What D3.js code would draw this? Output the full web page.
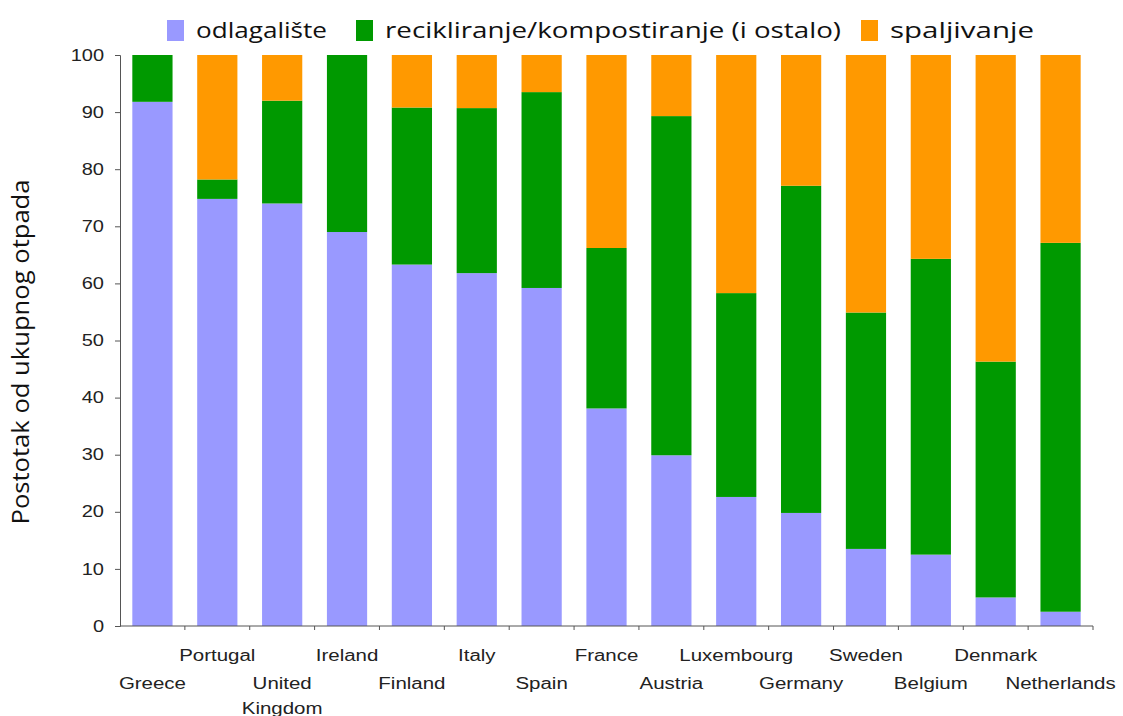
<!DOCTYPE html>
<html>
<head>
<meta charset="utf-8">
<script src="https://cdn.jsdelivr.net/npm/d3@7"></script>
<style>
  body { margin: 0; background: #fff; }
  svg { display: block; }
</style>
</head>
<body>
<svg width="1123" height="716"></svg>
<script>
// podaci očitani sa slike (postotak od ukupnog otpada)
const countries = ['Greece', 'Portugal', 'United Kingdom', 'Ireland', 'Finland', 'Italy', 'Spain',
  'France', 'Austria', 'Luxembourg', 'Germany', 'Sweden', 'Belgium', 'Denmark', 'Netherlands'];
const odlagaliste = [91.8, 74.8, 74.0, 69.0, 63.3, 61.8, 59.2, 38.1, 29.9, 22.6, 19.8, 13.5, 12.5, 5.0, 2.5];
const recikliranje = [8.2, 3.4, 18.0, 31.0, 27.5, 28.9, 34.3, 28.1, 59.4, 35.7, 57.3, 41.4, 51.8, 41.3, 64.6];
const spaljivanje = [0, 21.8, 8.0, 0, 9.2, 9.3, 6.5, 33.8, 10.7, 41.7, 22.9, 45.1, 35.7, 53.7, 32.9];
const seriesNames = ['odlagalište', 'recikliranje/kompostiranje (i ostalo)', 'spaljivanje'];
const colors = ['#9999ff', '#009900', '#ff9900'];
const yTicks = [0, 10, 20, 30, 40, 50, 60, 70, 80, 90, 100];

const svg = d3.select('svg');
const sx = 1.28; // slika je malo razvučena vodoravno
const x = d3.scaleBand().domain(countries).range([120, 1093]).paddingInner(0.38).paddingOuter(0.19);
const y = d3.scaleLinear().domain([0, 100]).range([626, 55]);

const rows = countries.map((c, i) => ({
  country: c, s0: odlagaliste[i], s1: recikliranje[i], s2: spaljivanje[i]
}));
const stacked = d3.stack().keys(['s0', 's1', 's2'])(rows);

svg.append('g')
  .selectAll('g')
  .data(stacked)
  .join('g')
  .attr('fill', (d, i) => colors[i])
  .selectAll('rect')
  .data((d) => d)
  .join('rect')
  .attr('x', (d) => x(d.data.country))
  .attr('width', x.bandwidth())
  .attr('y', (d) => y(d[1]))
  .attr('height', (d) => y(d[0]) - y(d[1]));

// y os
const yAxis = svg.append('g')
  .attr('transform', 'translate(120,0)')
  .call(d3.axisLeft(y).tickValues(yTicks).tickSize(5));
yAxis.select('.domain').attr('stroke', '#555');
yAxis.selectAll('.tick line').attr('stroke', '#555');
yAxis.selectAll('.tick text')
  .attr('x', -16 / 1.25)
  .attr('transform', 'scale(1.25,1)')
  .attr('font-family', 'Liberation Sans, Arial, sans-serif')
  .attr('font-size', 16)
  .attr('fill', '#222');

// x os, kvačice na granicama kategorija
const step = x.step();
const xAxis = svg.append('g').attr('transform', 'translate(0,626)');
xAxis.append('line')
  .attr('x1', 120).attr('x2', 1093)
  .attr('stroke', '#555');
xAxis.selectAll('line.tk')
  .data(countries)
  .join('line')
  .attr('class', 'tk')
  .attr('x1', (d) => x(d) + x.bandwidth() + (step - x.bandwidth()) / 2)
  .attr('x2', (d) => x(d) + x.bandwidth() + (step - x.bandwidth()) / 2)
  .attr('y1', 0).attr('y2', 4)
  .attr('stroke', '#555');

const labels = svg.append('g')
  .attr('font-family', 'Liberation Sans, Arial, sans-serif')
  .attr('font-size', 16)
  .attr('fill', '#222')
  .attr('text-anchor', 'middle');
countries.forEach((c, i) => {
  const cx = x(c) + x.bandwidth() / 2;
  const yy = i % 2 === 1 ? 661 : 689;
  const parts = c === 'United Kingdom' ? ['United', 'Kingdom'] : [c];
  parts.forEach((p, j) => {
    labels.append('text')
      .attr('transform', `translate(${cx},${yy + j * 25}) scale(${sx},1)`)
      .text(p);
  });
});

// naslov y osi
svg.append('text')
  .attr('transform', 'translate(29,352) rotate(-90) scale(1,1.2)')
  .attr('text-anchor', 'middle')
  .attr('font-family', 'Open Sans, sans-serif')
  .attr('font-size', 20)
  .attr('fill', '#111')
  .attr('textLength', 345)
  .attr('lengthAdjust', 'spacingAndGlyphs')
  .text('Postotak od ukupnog otpada');

// legenda
const legendX = [167, 356, 861];
const legendW = [131, 456, 144];
const legend = svg.append('g');
seriesNames.forEach((n, i) => {
  legend.append('rect')
    .attr('x', legendX[i]).attr('y', 20)
    .attr('width', 17).attr('height', 21)
    .attr('fill', colors[i]);
  legend.append('text')
    .attr('x', legendX[i] + 29).attr('y', 38)
    .attr('font-family', 'Open Sans, sans-serif')
    .attr('font-size', 22)
    .attr('fill', '#111')
    .attr('textLength', legendW[i])
    .attr('lengthAdjust', 'spacingAndGlyphs')
    .text(n);
});
</script>
</body>
</html>
